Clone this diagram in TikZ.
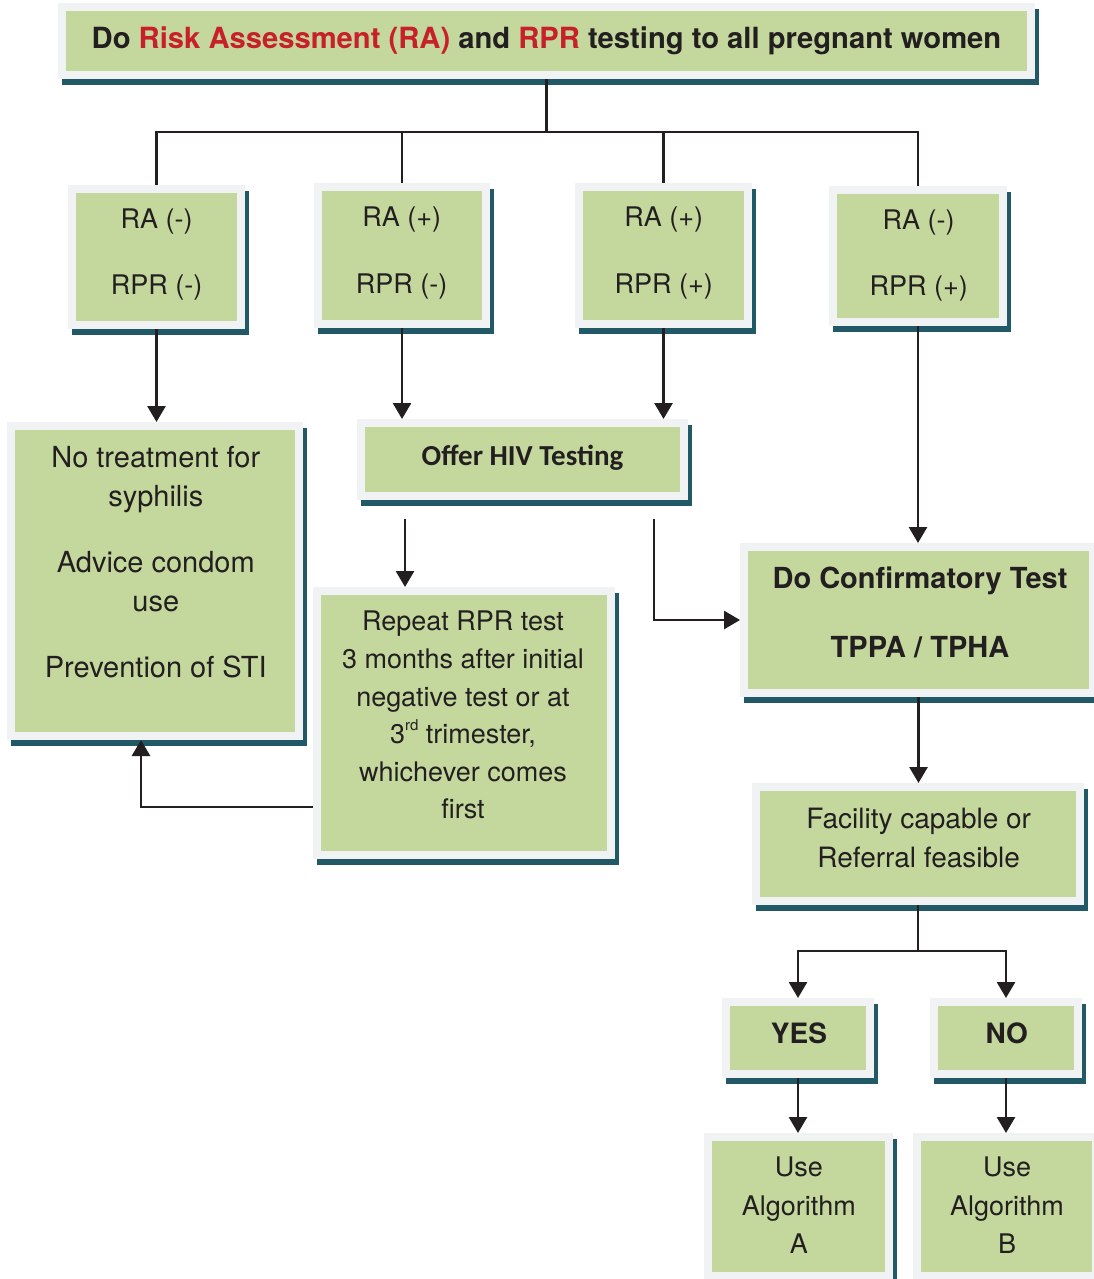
\documentclass[tikz,border=0pt]{standalone}
\usepackage{fontspec}
\setmainfont{TeX Gyre Heros}
\newfontfamily\calib{Carlito}
\usetikzlibrary{arrows.meta,shadows}
\definecolor{boxg}{RGB}{196,215,157}
\definecolor{rimc}{RGB}{241,242,244}
\definecolor{shc}{RGB}{33,90,102}
\definecolor{redt}{RGB}{200,32,42}
\definecolor{ink}{RGB}{35,31,32}
\newcommand\TS{\rule{0pt}{\dimexpr\fontcharht\font`H+10pt\relax}}
\newcommand\BS{\rule[-10pt]{0pt}{10pt}}
\newcommand\sups[1]{\raisebox{0.5em}{\fontsize{15}{15}\selectfont #1}}
\newcommand\gbox[5]{\node[gbox, minimum width={(#4-#2-8)*1pt}, minimum height={(#5-#3-8)*1pt}] (#1) at ({(#2+#4)/2},{(#3+#5)/2}) {};}
\begin{document}
\begin{tikzpicture}[x=1pt,y=-1pt,
  gbox/.style={draw=rimc, fill=boxg, line width=8pt, inner sep=0pt, outer sep=4pt,
    general shadow={fill=shc, draw=shc, line width=8pt, shadow xshift=4pt, shadow yshift=-6pt}},
  txt/.style={align=center, inner sep=0pt, text=ink},
  conn/.style={draw=ink, line width=2.8pt},
  arr/.style={conn, -{Triangle[length=16pt,width=18pt]}}]
\useasboundingbox (0,0) rectangle (1094,1279);
% boxes
\gbox{top}{58}{3}{1035}{79}
\gbox{b1}{68}{185}{245}{329}
\gbox{b2}{314}{183}{490}{328}
\gbox{b3}{575}{183}{752}{328}
\gbox{b4}{829}{186}{1007}{326}
\gbox{nt}{7}{422}{303}{740}
\gbox{hiv}{357}{419}{688}{500}
\gbox{rep}{313}{587}{615}{859}
\gbox{conf}{740}{543}{1097}{697}
\gbox{fac}{752}{783}{1084}{905}
\gbox{yes}{722}{998}{874}{1078}
\gbox{no}{930}{998}{1082}{1078}
\gbox{algA}{704}{1133}{893}{1280}
\gbox{algB}{913}{1133}{1100}{1280}
% texts
\node[txt, font=\fontsize{29.2}{35}\selectfont\bfseries] (t0) at (546.5,38) {\TS Do \textcolor{redt}{Risk Assessment (RA)} and \textcolor{redt}{RPR} testing to all pregnant women\BS};
\node[txt, font=\fontsize{27}{66}\selectfont] (t1) at (156.7,251.5) {\TS RA (-)\\RPR (-)\BS};
\node[txt, font=\fontsize{27}{67}\selectfont] (t2) at (401.7,250.2) {\TS RA (+)\\RPR (-)\BS};
\node[txt, font=\fontsize{27}{67}\selectfont] (t3) at (663.8,250.5) {\TS RA (+)\\RPR (+)\BS};
\node[txt, font=\fontsize{27}{66}\selectfont] (t4) at (918.7,253) {\TS RA (-)\\RPR (+)\BS};
\node[txt, font=\fontsize{29}{39.5}\selectfont] (t5) at (155.8,561.6) {\TS No treatment for\\syphilis\\[26pt]Advice condom\\use\\[26pt]Prevention of STI\BS};
\node[txt, font=\calib\fontsize{29}{35}\selectfont\bfseries] (t6) at (522.5,456) {\TS Offer HIV Testing\BS};
\node[txt, font=\fontsize{27}{37.6}\selectfont] (t7) at (463,715) {\TS Repeat RPR test\\3 months after initial\\negative test or at\\3\sups{rd} trimester,\\whichever comes\\first\BS};
\node[txt, font=\fontsize{29}{69.2}\selectfont\bfseries] (t8) at (920,612.1) {\TS Do Confirmatory Test\\TPPA / TPHA\BS};
\node[txt, font=\fontsize{28}{39}\selectfont] (t9) at (918.7,837.5) {\TS Facility capable or\\Referral feasible\BS};
\node[txt, font=\fontsize{28}{35}\selectfont\bfseries] (t10) at (799,1033) {\TS YES\BS};
\node[txt, font=\fontsize{28}{35}\selectfont\bfseries] (t11) at (1006.7,1033) {\TS NO\BS};
\node[txt, font=\fontsize{27}{38.5}\selectfont] (t12) at (798.8,1205.5) {\TS Use\\Algorithm\\A\BS};
\node[txt, font=\fontsize{27}{38.5}\selectfont] (t13) at (1007,1205.5) {\TS Use\\Algorithm\\B\BS};
% connectors
\coordinate (j1) at (546.5,132);
\draw[conn] (top.south) -- (j1);
\draw[conn] (b1.north) |- (j1) -| (b4.north);
\draw[conn] (b2.north) -- (b2.north |- j1);
\draw[conn] (b3.north) -- (b3.north |- j1);
\draw[arr] (b1.south) -- (b1.south |- nt.north);
\draw[arr] (b2.south) -- (b2.south |- hiv.north);
\draw[arr] (b3.south) -- (b3.south |- hiv.north);
\draw[arr] (b4.south) -- (b4.south |- conf.north);
\coordinate (h1) at (405,519);
\coordinate (h2) at (654,519);
\draw[arr] (h1) -- (h1 |- rep.north);
\draw[arr] (h2) |- (conf.west);
\coordinate (r1) at (313,807);
\draw[arr] (r1) -| ([xshift=-14pt]nt.south);
\draw[arr] (conf.south) -- (conf.south |- fac.north);
\coordinate (j2) at (918,951);
\draw[conn] (fac.south) -- (j2);
\draw[arr] (j2) -| (yes.north);
\draw[arr] (j2) -| (no.north);
\draw[arr] (yes.south) -- (yes.south |- algA.north);
\draw[arr] (no.south) -- (no.south |- algB.north);
\end{tikzpicture}
\end{document}
